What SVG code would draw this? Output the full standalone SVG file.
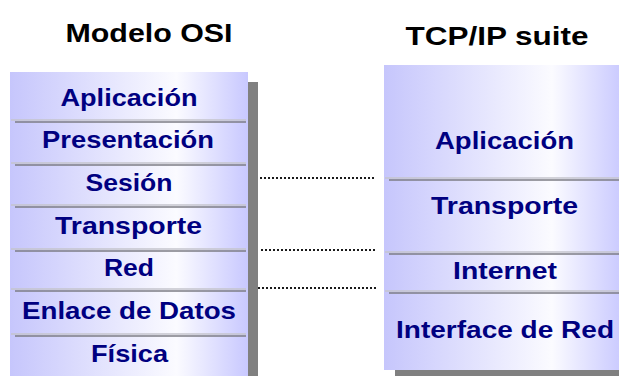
<svg xmlns="http://www.w3.org/2000/svg" width="619" height="376" viewBox="0 0 619 376">
<defs>
<linearGradient id="gL" x1="0" y1="0" x2="1" y2="0">
<stop offset="0" stop-color="#c6c6fc"/>
<stop offset="0.7" stop-color="#fbfbff"/>
<stop offset="1" stop-color="#c8c8ff"/>
</linearGradient>
<style>
.title{font-family:"Liberation Sans",Arial,sans-serif;font-weight:bold;font-size:25px;fill:#000;text-anchor:middle}
.lbl{font-family:"Liberation Sans",Arial,sans-serif;font-weight:bold;font-size:24px;fill:#000080;text-anchor:middle}
.shadow{fill:#808080}
.box{fill:url(#gL)}
.sepL{stroke:#c4c4cc;stroke-width:1.5}
.sepD{stroke:#7c7c84;stroke-width:1.5}
.conn{stroke:#1a1a1a;stroke-width:2;stroke-dasharray:2 2;fill:none}
</style>
</defs>
<rect width="619" height="376" fill="#fff"/>

<g id="title-osi"><text class="title" x="149" y="42" textLength="167" lengthAdjust="spacingAndGlyphs">Modelo OSI</text></g>
<g id="title-tcpip"><text class="title" x="497" y="45" textLength="183" lengthAdjust="spacingAndGlyphs">TCP/IP suite</text></g>

<g id="osi-stack">
<rect class="shadow" x="248" y="82" width="10" height="294"/>
<rect class="box" x="10" y="72" width="238" height="304"/>
</g>
<g id="osi-aplicacion"><text class="lbl" x="129" y="106" textLength="137" lengthAdjust="spacingAndGlyphs">Aplicación</text>
<line class="sepL" x1="11" y1="120" x2="246" y2="120"/><line class="sepD" x1="15" y1="122" x2="246" y2="122"/></g>
<g id="osi-presentacion"><text class="lbl" x="128" y="148" textLength="172" lengthAdjust="spacingAndGlyphs">Presentación</text>
<line class="sepL" x1="11" y1="163" x2="246" y2="163"/><line class="sepD" x1="15" y1="165" x2="246" y2="165"/></g>
<g id="osi-sesion"><text class="lbl" x="129" y="191" textLength="87" lengthAdjust="spacingAndGlyphs">Sesión</text>
<line class="sepL" x1="11" y1="205" x2="246" y2="205"/><line class="sepD" x1="15" y1="207" x2="246" y2="207"/></g>
<g id="osi-transporte"><text class="lbl" x="128.5" y="234" textLength="147" lengthAdjust="spacingAndGlyphs">Transporte</text>
<line class="sepL" x1="11" y1="249" x2="246" y2="249"/><line class="sepD" x1="15" y1="251" x2="246" y2="251"/></g>
<g id="osi-red"><text class="lbl" x="129" y="276" textLength="50" lengthAdjust="spacingAndGlyphs">Red</text>
<line class="sepL" x1="11" y1="289" x2="246" y2="289"/><line class="sepD" x1="15" y1="291" x2="246" y2="291"/></g>
<g id="osi-enlace"><text class="lbl" x="129" y="319" textLength="214" lengthAdjust="spacingAndGlyphs">Enlace de Datos</text>
<line class="sepL" x1="11" y1="334" x2="246" y2="334"/><line class="sepD" x1="15" y1="336" x2="246" y2="336"/></g>
<g id="osi-fisica"><text class="lbl" x="129.5" y="362" textLength="77" lengthAdjust="spacingAndGlyphs">Física</text></g>

<g id="tcpip-stack">
<rect class="shadow" x="395" y="370" width="224" height="6"/>
<rect class="box" x="384" y="65" width="240" height="305"/>
</g>
<g id="tcp-aplicacion"><text class="lbl" x="504.5" y="149" textLength="139" lengthAdjust="spacingAndGlyphs">Aplicación</text>
<line class="sepL" x1="385" y1="178" x2="619" y2="178"/><line class="sepD" x1="389" y1="180" x2="619" y2="180"/></g>
<g id="tcp-transporte"><text class="lbl" x="504.5" y="214" textLength="147" lengthAdjust="spacingAndGlyphs">Transporte</text>
<line class="sepL" x1="385" y1="252" x2="619" y2="252"/><line class="sepD" x1="389" y1="254" x2="619" y2="254"/></g>
<g id="tcp-internet"><text class="lbl" x="505" y="279" textLength="104" lengthAdjust="spacingAndGlyphs">Internet</text>
<line class="sepL" x1="385" y1="291" x2="619" y2="291"/><line class="sepD" x1="389" y1="293" x2="619" y2="293"/></g>
<g id="tcp-interface"><text class="lbl" x="505" y="338" textLength="218" lengthAdjust="spacingAndGlyphs">Interface de Red</text></g>

<g id="connectors">
<line class="conn" x1="260" y1="178" x2="376" y2="178"/>
<line class="conn" x1="261" y1="250" x2="376" y2="250"/>
<line class="conn" x1="258" y1="288" x2="376" y2="288"/>
</g>
</svg>
